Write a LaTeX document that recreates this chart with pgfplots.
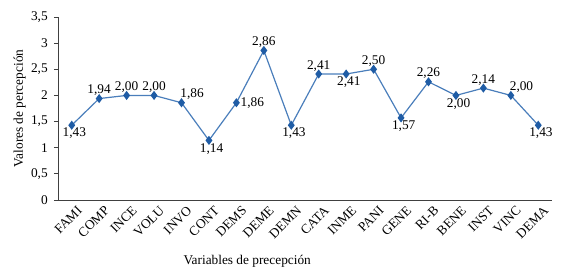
\documentclass[border=0pt]{standalone}
\usepackage{pgfplots}
\pgfplotsset{compat=1.18}
\usepackage{fontspec}
\setmainfont{Liberation Serif}
\definecolor{lineblue}{RGB}{74,126,187}
\definecolor{markblue}{RGB}{31,92,165}
\begin{document}
\fontsize{10}{12}\selectfont
\begin{tikzpicture}[x=0.75pt,y=0.75pt]
\begin{axis}[
  scale only axis,
  width=370.5pt, height=137.25pt,
  xmin=-0.5, xmax=17.5,
  ymin=0, ymax=3.5,
  ytick={0,0.5,1,1.5,2,2.5,3,3.5},
  xtick={0,...,17},
  xticklabels={FAMI,COMP,INCE,VOLU,INVO,CONT,DEMS,DEME,DEMN,CATA,INME,PANI,GENE,RI-B,BENE,INST,VINC,DEMA},
  x tick label style={rotate=45, anchor=north east, inner sep=1pt, xshift=3pt, yshift=-2pt},
  xtick style={draw=none},
  axis x line*=bottom,
  axis y line*=left,
  axis line style={draw=black!75, line width=0.6pt, -},
  ytick style={draw=black!75, line width=0.6pt},
  tick align=outside,
  major tick length=3pt,
  /pgf/number format/assume math mode=true,
  /pgf/number format/use comma,
  yticklabel style={/pgf/number format/fixed, inner sep=1.5pt, xshift=-3pt},
  ylabel={Valores de percepción},
  ylabel shift=-1pt,
  xlabel={Variables de precepción},
  xlabel style={at={(rel axis cs:0.383,0)}, anchor=north, yshift=-38pt},
  clip=false,
]
\addplot[color=lineblue, line width=0.9pt, mark=diamond*, mark size=2.7pt, mark options={fill=markblue, draw=markblue}]
coordinates {
(0,1.43) (1,1.94) (2,2.00) (3,2.00) (4,1.86) (5,1.14) (6,1.86) (7,2.86) (8,1.43)
(9,2.41) (10,2.41) (11,2.50) (12,1.57) (13,2.26) (14,2.00) (15,2.14) (16,2.00) (17,1.43)
};
% labels above
\addplot[draw=none, mark=none, nodes near coords={\pgfmathprintnumber[fixed,fixed zerofill,precision=2]{\pgfplotspointmeta}}, nodes near coords align={above}, every node near coord/.append style={inner sep=2pt}]
coordinates {(1,1.94) (2,2.00) (3,2.00) (7,2.86) (9,2.41) (11,2.50) (13,2.26) (15,2.14)};
% labels above right
\addplot[draw=none, mark=none, nodes near coords={\pgfmathprintnumber[fixed,fixed zerofill,precision=2]{\pgfplotspointmeta}}, nodes near coords align={above}, every node near coord/.append style={inner sep=2pt, xshift=8pt}]
coordinates {(4,1.86) (16,2.00)};
% labels below
\addplot[draw=none, mark=none, nodes near coords={\pgfmathprintnumber[fixed,fixed zerofill,precision=2]{\pgfplotspointmeta}}, nodes near coords align={below}, every node near coord/.append style={inner sep=2pt, xshift=2pt}]
coordinates {(0,1.43) (5,1.14) (8,1.43) (10,2.41) (12,1.57) (14,2.00) (17,1.43)};
% labels right
\addplot[draw=none, mark=none, nodes near coords={\pgfmathprintnumber[fixed,fixed zerofill,precision=2]{\pgfplotspointmeta}}, nodes near coords align={right}, every node near coord/.append style={inner sep=3pt}]
coordinates {(6,1.86)};
\end{axis}
\path[use as bounding box] (-58,-74) rectangle (514,200);
\end{tikzpicture}
\end{document}
